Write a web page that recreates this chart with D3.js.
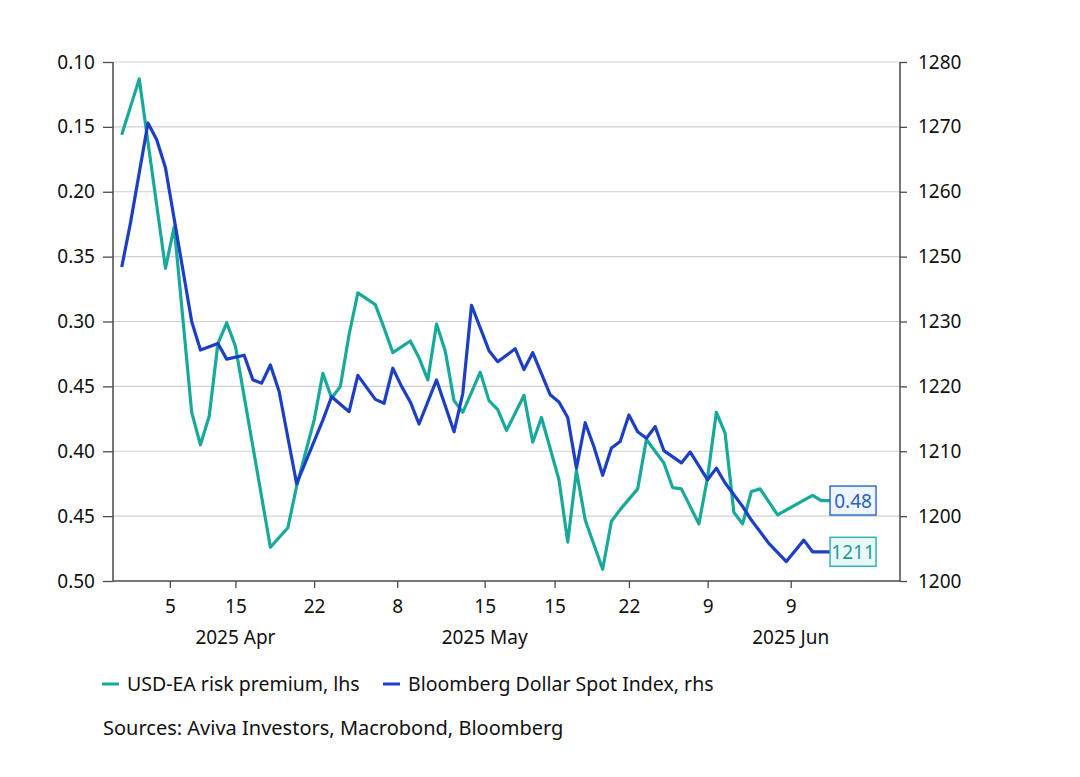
<!DOCTYPE html>
<html>

<head>
    <title>USD-EA risk premium vs Bloomberg Dollar Spot Index</title>
    <script src="https://d3js.org/d3.v7.min.js"></script>
    <style>
        body { margin: 0; background: #fff; }
        text { font-family: "Noto Sans", "Open Sans", sans-serif; fill: #111; }
    </style>
</head>

<body>

    <svg width="1080" height="777" id="mainSvg"></svg>
    <script>
        // day offsets are counted from the left edge of the plot (day 0)
        const tealDays = [1, 3, 6, 7, 9, 10, 11, 12, 13, 14, 18, 20, 21, 23, 24, 25, 26, 27, 28, 30,
            31, 32, 34, 35, 36, 37, 38, 39, 40, 42, 43, 44, 45, 47, 48, 49, 51, 52, 53, 54,
            56, 57, 58, 60, 61, 63, 64, 65, 67, 68, 69, 70, 71, 72, 73, 74, 76, 80, 81, 82];
        const tealValues = [0.156, 0.113, 0.259, 0.227, 0.370, 0.395, 0.373, 0.317, 0.301, 0.319,
            0.474, 0.459, 0.427, 0.376, 0.340, 0.359, 0.350, 0.310, 0.278, 0.287,
            0.305, 0.324, 0.315, 0.328, 0.345, 0.302, 0.323, 0.361, 0.370, 0.339,
            0.361, 0.368, 0.384, 0.357, 0.393, 0.374, 0.422, 0.470, 0.415, 0.453,
            0.491, 0.454, 0.445, 0.429, 0.391, 0.409, 0.428, 0.429, 0.456, 0.420,
            0.370, 0.386, 0.447, 0.456, 0.431, 0.429, 0.449, 0.434, 0.438, 0.438];

        const blueDays = [1, 2, 4, 5, 6, 9, 10, 12, 13, 15, 16, 17, 18, 19, 21, 24, 25, 27, 28, 30,
            31, 32, 33, 34, 35, 37, 39, 40, 41, 43, 44, 46, 47, 48, 50, 51, 52, 53, 54, 55,
            56, 57, 58, 59, 60, 61, 62, 63, 65, 66, 68, 69, 70, 72, 73, 75, 77, 79, 80, 82];
        const blueValues = [1248.4, 1255.2, 1270.6, 1268.0, 1263.7, 1240.0, 1235.6, 1236.6, 1234.2, 1234.8,
            1231.0, 1230.5, 1233.3, 1229.2, 1215.0, 1224.8, 1228.4, 1226.1, 1231.7, 1228.0,
            1227.4, 1232.8, 1230.0, 1227.6, 1224.2, 1231.0, 1223.0, 1228.9, 1242.5, 1235.5,
            1233.8, 1235.8, 1232.6, 1235.2, 1228.7, 1227.6, 1225.2, 1217.4, 1224.4, 1220.7,
            1216.3, 1220.5, 1221.5, 1225.6, 1223.0, 1222.0, 1223.8, 1220.1, 1218.2, 1219.9,
            1215.6, 1217.4, 1215.1, 1211.5, 1209.4, 1205.8, 1203.0, 1206.3, 1204.5, 1204.5];

        const leftTicks = [0.10, 0.15, 0.20, 0.25, 0.30, 0.35, 0.40, 0.45, 0.50];
        const leftTickLabels = ["0.10", "0.15", "0.20", "0.35", "0.30", "0.45", "0.40", "0.45", "0.50"];
        const rightTicks = [1280, 1270, 1260, 1250, 1240, 1230, 1220, 1210, 1200];
        const rightTickLabels = ["1280", "1270", "1260", "1250", "1230", "1220", "1210", "1200", "1200"];

        const xTickDays = [6.5, 14, 23, 32.5, 42.5, 50.5, 59, 68, 77.5];
        const xTickLabels = ["5", "15", "22", "8", "15", "15", "22", "9", "9"];
        const monthDays = [14, 42.5, 77.5];
        const monthLabels = ["2025 Apr", "2025 May", "2025 Jun"];

        const seriesNames = ["USD-EA risk premium, lhs", "Bloomberg Dollar Spot Index, rhs"];
        const endLabels = ["0.48", "1211"];
        const sourceText = "Sources: Aviva Investors, Macrobond, Bloomberg";

        const tealColor = "#19a99b";
        const blueColor = "#1c3fc4";

        const mainSvg = d3.select('#mainSvg');
        const mainWidth = +mainSvg.attr("width");
        const mainHeight = +mainSvg.attr("height");
        const margin = { top: 62, right: 180, bottom: 196, left: 113 };
        const innerWidth = mainWidth - margin.left - margin.right;
        const innerHeight = mainHeight - margin.top - margin.bottom;

        const g = mainSvg.append("g")
            .attr("transform", `translate(${margin.left}, ${margin.top})`);

        const x = d3.scaleLinear().domain([0, 90]).range([0, innerWidth]);
        // risk premium axis runs downwards
        const yLeft = d3.scaleLinear().domain([0.10, 0.50]).range([0, innerHeight]);
        const yRight = d3.scaleLinear().domain([1200, 1280]).range([innerHeight, 0]);

        // gridlines
        g.append("g").selectAll("line")
            .data(leftTicks.slice(0, -1)).join("line")
            .attr("x1", 0).attr("x2", innerWidth)
            .attr("y1", d => yLeft(d)).attr("y2", d => yLeft(d))
            .attr("stroke", "#d0d0d0").attr("stroke-width", 1.2);

        const axisColor = "#4a4a4a";

        const leftAxis = g.append("g")
            .call(d3.axisLeft(yLeft).tickValues(leftTicks)
                .tickFormat((d, i) => leftTickLabels[i]).tickSize(10).tickPadding(8));
        const rightAxis = g.append("g")
            .attr("transform", `translate(${innerWidth},0)`)
            .call(d3.axisRight(yRight).tickValues(rightTicks)
                .tickFormat((d, i) => rightTickLabels[i]).tickSize(7).tickPadding(11));
        const bottomAxis = g.append("g")
            .attr("transform", `translate(0,${innerHeight})`)
            .call(d3.axisBottom(x).tickValues(xTickDays)
                .tickFormat((d, i) => xTickLabels[i]).tickSize(7).tickPadding(12));

        [leftAxis, rightAxis, bottomAxis].forEach(a => {
            a.attr("font-size", null).attr("font-family", null);
            a.select(".domain").attr("stroke", axisColor).attr("stroke-width", 1.5);
            a.selectAll(".tick line").attr("stroke", axisColor).attr("stroke-width", 1.3);
            a.selectAll(".tick text").attr("font-size", 19).attr("fill", "#111");
        });
        leftAxis.select(".domain").attr("d", `M0,0V${innerHeight}`);
        rightAxis.select(".domain").attr("d", `M0,0V${innerHeight}`);
        bottomAxis.select(".domain").attr("d", `M0,0H${innerWidth}`);

        g.append("g").selectAll("text")
            .data(monthLabels).join("text")
            .attr("x", (d, i) => x(monthDays[i]))
            .attr("y", innerHeight + 63)
            .attr("text-anchor", "middle")
            .attr("font-size", 19)
            .text(d => d);

        // lines
        const tealData = tealDays.map((d, i) => [d, tealValues[i]]);
        const blueData = blueDays.map((d, i) => [d, blueValues[i]]);

        const tealLine = d3.line().x(d => x(d[0])).y(d => yLeft(d[1]));
        const blueLine = d3.line().x(d => x(d[0])).y(d => yRight(d[1]));

        g.append("path").datum(tealData)
            .attr("d", tealLine)
            .attr("fill", "none").attr("stroke", tealColor)
            .attr("stroke-width", 3.2).attr("stroke-linejoin", "round");
        g.append("path").datum(blueData)
            .attr("d", blueLine)
            .attr("fill", "none").attr("stroke", blueColor)
            .attr("stroke-width", 3.2).attr("stroke-linejoin", "round");

        // end-value boxes
        const lastTeal = tealData[tealData.length - 1];
        const lastBlue = blueData[blueData.length - 1];
        const boxes = [
            { text: endLabels[0], cx: x(lastTeal[0]), cy: yLeft(lastTeal[1]), stroke: "#2f6fcc", fill: "#eef5fc", color: "#2762bb" },
            { text: endLabels[1], cx: x(lastBlue[0]), cy: yRight(lastBlue[1]), stroke: "#34b3b0", fill: "#eaf7f7", color: "#1f9c99" }
        ];
        const box = g.append("g").selectAll("g")
            .data(boxes).join("g")
            .attr("transform", d => `translate(${d.cx},${d.cy})`);
        box.append("rect")
            .attr("x", 0).attr("y", -14.5).attr("width", 46).attr("height", 29)
            .attr("fill", d => d.fill).attr("stroke", d => d.stroke).attr("stroke-width", 1.5);
        box.append("text")
            .attr("x", 23).attr("y", 7)
            .attr("text-anchor", "middle")
            .attr("font-size", 19)
            .style("fill", d => d.color)
            .text(d => d.text);

        // legend
        const legend = mainSvg.append("g").attr("transform", "translate(0,684)");
        const legendItems = [
            { name: seriesNames[0], color: tealColor, x: 102 },
            { name: seriesNames[1], color: blueColor, x: 383 }
        ];
        const li = legend.selectAll("g").data(legendItems).join("g")
            .attr("transform", d => `translate(${d.x},0)`);
        li.append("line")
            .attr("x1", 0).attr("x2", 17).attr("y1", 0).attr("y2", 0)
            .attr("stroke", d => d.color).attr("stroke-width", 3);
        li.append("text")
            .attr("x", 25).attr("y", 7)
            .attr("font-size", 19.5)
            .text(d => d.name);

        mainSvg.append("text")
            .attr("x", 103).attr("y", 735)
            .attr("font-size", 20)
            .text(sourceText);
    </script>
</body>

</html>
